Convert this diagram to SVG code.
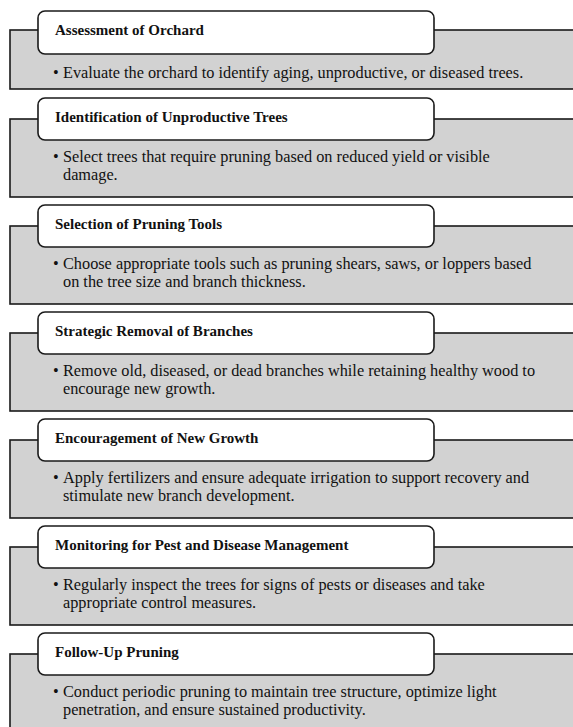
<svg xmlns="http://www.w3.org/2000/svg" width="573" height="727" viewBox="0 0 573 727">
<style>
.band{fill:#d2d2d2;stroke:#1a1a1a;stroke-width:1.6}
.head{fill:#ffffff;stroke:#1a1a1a;stroke-width:1.6}
.title{font-family:"Liberation Serif","Times New Roman",serif;font-weight:bold;font-size:15px;fill:#111}
.body{font-family:"Liberation Serif","Times New Roman",serif;font-size:16.3px;fill:#111}
</style>
<rect width="573" height="727" fill="#ffffff"/>
<g id="connectors"/>
<g id="step1">
<rect class="band" x="10" y="30" width="580" height="59"/>
<rect class="head" x="38" y="11" width="396" height="43" rx="7"/>
<text class="title" x="55" y="35">Assessment of Orchard</text>
<text class="body" x="53" y="78">•<tspan x="63">Evaluate the orchard to identify aging, unproductive, or diseased trees.</tspan></text>
</g>
<g id="step2">
<rect class="band" x="10" y="119" width="580" height="78"/>
<rect class="head" x="38" y="98" width="396" height="42" rx="7"/>
<text class="title" x="55" y="122">Identification of Unproductive Trees</text>
<text class="body" x="53" y="162">•<tspan x="63">Select trees that require pruning based on reduced yield or visible</tspan><tspan x="63" y="180">damage.</tspan></text>
</g>
<g id="step3">
<rect class="band" x="10" y="226" width="580" height="78"/>
<rect class="head" x="38" y="205" width="396" height="42" rx="7"/>
<text class="title" x="55" y="229">Selection of Pruning Tools</text>
<text class="body" x="53" y="269">•<tspan x="63">Choose appropriate tools such as pruning shears, saws, or loppers based</tspan><tspan x="63" y="287">on the tree size and branch thickness.</tspan></text>
</g>
<g id="step4">
<rect class="band" x="10" y="333" width="580" height="78"/>
<rect class="head" x="38" y="312" width="396" height="42" rx="7"/>
<text class="title" x="55" y="336">Strategic Removal of Branches</text>
<text class="body" x="53" y="376">•<tspan x="63">Remove old, diseased, or dead branches while retaining healthy wood to</tspan><tspan x="63" y="394">encourage new growth.</tspan></text>
</g>
<g id="step5">
<rect class="band" x="10" y="440" width="580" height="78"/>
<rect class="head" x="38" y="419" width="396" height="42" rx="7"/>
<text class="title" x="55" y="443">Encouragement of New Growth</text>
<text class="body" x="53" y="483">•<tspan x="63">Apply fertilizers and ensure adequate irrigation to support recovery and</tspan><tspan x="63" y="501">stimulate new branch development.</tspan></text>
</g>
<g id="step6">
<rect class="band" x="10" y="547" width="580" height="78"/>
<rect class="head" x="38" y="526" width="396" height="42" rx="7"/>
<text class="title" x="55" y="550">Monitoring for Pest and Disease Management</text>
<text class="body" x="53" y="590">•<tspan x="63">Regularly inspect the trees for signs of pests or diseases and take</tspan><tspan x="63" y="608">appropriate control measures.</tspan></text>
</g>
<g id="step7">
<rect class="band" x="10" y="654" width="580" height="90"/>
<rect class="head" x="38" y="633" width="396" height="42" rx="7"/>
<text class="title" x="55" y="657">Follow-Up Pruning</text>
<text class="body" x="53" y="697">•<tspan x="63">Conduct periodic pruning to maintain tree structure, optimize light</tspan><tspan x="63" y="715">penetration, and ensure sustained productivity.</tspan></text>
</g>
</svg>
